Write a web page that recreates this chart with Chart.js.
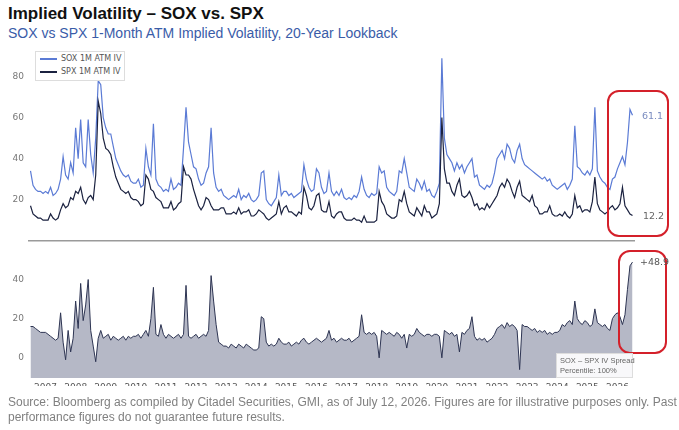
<!DOCTYPE html>
<html>
<head>
<meta charset="utf-8">
<script src="https://cdn.jsdelivr.net/npm/chart.js@4.4.1/dist/chart.umd.min.js"></script>
<style>
  body { margin: 0; width: 679px; height: 430px; background: #fff; position: relative; overflow: hidden; font-family: "Liberation Sans", Arial, sans-serif; }
  #title { position: absolute; left: 8px; top: 4px; font-size: 17px; font-weight: bold; color: #111; }
  #subtitle { position: absolute; left: 8px; top: 25px; font-size: 14px; color: #3a5ca8; }
  #topChart { position: absolute; left: 0; top: 0; }
  #bottomChart { position: absolute; left: 0; top: 245px; }
  #legend { position: absolute; left: 35px; top: 51px; width: 88px; height: 28px; border: 1px solid #ddd; background: #fff; font: 8px "DejaVu Sans", sans-serif; color: #555; }
  #legend div { height: 13px; line-height: 13px; padding-left: 4px; }
  #legend span { display: inline-block; width: 17px; height: 2px; vertical-align: middle; margin-right: 4px; }
  .val { position: absolute; font: 9.5px "DejaVu Sans", sans-serif; }
  .ring { position: absolute; border: 2px solid #d4202a; border-radius: 12px; }
  #note { position: absolute; left: 556px; top: 353px; width: 77px; height: 25px; background: rgba(255,255,255,0.9); border: 1px solid #ddd; font: 7.5px "Liberation Sans", Arial, sans-serif; color: #666; line-height: 10px; padding: 2px 0 0 3px; box-sizing: border-box; white-space: nowrap; }
  #source { position: absolute; left: 8px; top: 395px; font-size: 12px; line-height: 15px; color: #808080; }
</style>
</head>
<body>
<div id="title">Implied Volatility – SOX vs. SPX</div>
<div id="subtitle">SOX vs SPX 1-Month ATM Implied Volatility, 20-Year Lookback</div>
<canvas id="topChart" width="679" height="251"></canvas>
<canvas id="bottomChart" width="679" height="185"></canvas>
<div id="legend">
  <div><span style="background:#5b7bd5"></span>SOX 1M ATM IV</div>
  <div><span style="background:#1b2240"></span>SPX 1M ATM IV</div>
</div>
<div class="ring" style="left:607px; top:90px; width:58px; height:143px;"></div>
<div class="ring" style="left:618px; top:250px; width:45px; height:100px;"></div>
<div class="val" style="left:642px; top:110px; color:#7a8cc0;">61.1</div>
<div class="val" style="left:643px; top:210px; color:#666;">12.2</div>
<div class="val" style="left:640px; top:256px; color:#555;">+48.9</div>
<div id="note">SOX – SPX IV Spread<br>Percentile: 100%</div>
<div id="source">Source: Bloomberg as compiled by Citadel Securities, GMI, as of July 12, 2026. Figures are for illustrative purposes only. Past<br>performance figures do not guarantee future results.</div>
<script>
'use strict';
// monthly readings, Jul 2006 .. Jul 2026
let startYear = 2006.5;
let yearTicks = [2007, 2008, 2009, 2010, 2011, 2012, 2013, 2014, 2015, 2016, 2017, 2018, 2019, 2020, 2021, 2022, 2023, 2024, 2025, 2026];
let topTicks = [20, 40, 60, 80];
let bottomTicks = [0, 20, 40];

let sox = [
  34, 27, 25, 24, 24, 23,
  24, 23, 26, 22, 23, 25, 30, 41, 32, 30, 38, 33,
  55, 40, 59, 38, 36, 59, 42, 33, 50, 78, 76, 60,
  55, 52, 52, 46, 40, 37, 34, 32, 31, 32, 29, 28,
  28, 30, 26, 27, 45, 36, 32, 57, 30, 27, 26, 24,
  25, 24, 30, 25, 26, 28, 27, 45, 65, 48, 42, 36,
  35, 30, 27, 28, 33, 36, 55, 33, 26, 24, 25, 22,
  21, 20, 21, 22, 21, 25, 20, 22, 21, 23, 20, 19,
  20, 22, 33, 34, 20, 18, 17, 19, 21, 32, 22, 24,
  24, 22, 23, 21, 22, 23, 24, 37, 30, 26, 24, 25,
  35, 33, 26, 23, 24, 33, 24, 22, 24, 22, 25, 21,
  20, 21, 20, 22, 21, 24, 31, 25, 22, 21, 23, 22,
  23, 36, 33, 34, 26, 24, 23, 22, 24, 34, 33, 40,
  33, 26, 25, 24, 30, 28, 25, 29, 24, 25, 22, 21,
  24, 28, 89, 50, 42, 40, 38, 34, 38, 35, 37, 33,
  36, 38, 40, 31, 32, 27, 26, 25, 27, 26, 28, 33,
  40, 42, 44, 40, 47, 45, 40, 38, 44, 47, 40, 37,
  36, 35, 34, 33, 32, 31, 30, 31, 29, 30, 27, 26,
  25, 26, 27, 28, 25, 27, 30, 56, 36, 35, 33, 32,
  34, 32, 35, 65, 34, 31, 29, 28, 26, 25, 30, 31,
  35, 38, 41, 37, 48, 64, 61.1
];

let spx = [
  17, 13, 12, 11, 11, 10,
  10, 10, 13, 11, 10, 11, 15, 18, 16, 17, 21, 20,
  24, 23, 26, 20, 18, 21, 22, 20, 32, 68, 62, 50,
  45, 44, 42, 36, 31, 28, 25, 24, 23, 24, 21, 20,
  20, 19, 17, 18, 32, 30, 25, 24, 21, 20, 19, 16,
  16, 16, 19, 15, 16, 18, 19, 36, 32, 32, 30, 25,
  21, 17, 15, 17, 21, 20, 17, 15, 15, 15, 16, 16,
  13, 13, 13, 14, 13, 16, 13, 14, 14, 15, 12, 12,
  13, 15, 14, 13, 11, 10, 11, 12, 13, 19, 13, 16,
  17, 14, 14, 13, 12, 14, 13, 26, 22, 16, 15, 17,
  22, 23, 15, 14, 14, 19, 12, 11, 13, 14, 14, 11,
  10, 10, 10, 11, 10, 10, 9, 12, 9, 9, 9, 9,
  10, 24, 19, 17, 13, 12, 11, 11, 12, 20, 19, 24,
  18, 14, 13, 12, 16, 14, 12, 17, 14, 14, 11, 12,
  13, 18, 60, 35, 28, 28, 24, 22, 27, 30, 22, 21,
  22, 24, 21, 17, 18, 15, 16, 15, 18, 16, 18, 20,
  22, 26, 28, 26, 30, 28, 24, 21, 26, 29, 22, 21,
  20, 19, 22, 17, 16, 13, 13, 14, 14, 17, 13, 12,
  12, 13, 12, 14, 12, 11, 13, 22, 16, 17, 14, 15,
  15, 14, 19, 31, 18, 15, 14, 13, 14, 16, 17, 15,
  16, 18, 26, 17, 15, 13, 12.2
];

let spread = [
  16, 16, 15, 14, 13, 13,
  13, 12, 11, 10, 9, 10, 23, 8, -1, 14, 3, 10,
  29, 15, 38, 19, 27, 40, 14, 6, -2, 10, 14, 10,
  11, 12, 9, 11, 10, 9, 10, 11, 9, 11, 10, 11,
  11, 12, 10, 12, 14, 11, 20, 36, 12, 11, 17, 12,
  10, 12, 11, 10, 11, 12, 10, 12, 37, 11, 10, 11,
  12, 10, 11, 12, 11, 14, 42, 29, 17, 8, 7, 6,
  6, 5, 7, 6, 5, 7, 6, 5, 7, 6, 5, 4,
  4, 5, 21, 20, 8, 6, 7, 6, 7, 10, 8, 7,
  7, 8, 6, 7, 8, 7, 9, 10, 8, 7, 8, 9,
  10, 9, 8, 9, 10, 14, 9, 10, 8, 9, 10, 9,
  9, 10, 8, 9, 10, 11, 22, 13, 12, 13, 12, 13,
  11, 0, 14, 13, 12, 13, 12, 11, 13, 12, 10, 12,
  5, 12, 11, 12, 15, 13, 12, 11, 12, 12, 11, 12,
  12, 11, 0, 14, 13, 12, 13, 11, 12, 3, 13, 12,
  14, 15, 21, 11, 9, 10, 9, 10, 8, 9, 10, 12,
  15, 16, 17, 15, 18, 16, 17, 16, 14, -6, 17, 16,
  16, 15, 14, 15, 13, 14, 13, 14, 12, 13, 12, 13,
  13, 14, 17, 16, 18, 19, 17, 29, 20, 18, 17, 19,
  18, 16, 17, 25, 18, 17, 16, 17, 15, 14, 20, 22,
  23, 21, 17, 22, 35, 47, 48.9
];

function toPoints(arr){
  return arr.map((v, i) => ({x: startYear + i / 12, y: v}));
}

Chart.defaults.font.family = 'DejaVu Sans';
Chart.defaults.font.size = 9;
Chart.defaults.color = '#666';

let xRange = {min: 2006.45, max: 2026.55};

new Chart(document.getElementById('topChart'), {
  type: 'line',
  data: {
    datasets: [
      {label: 'SPX 1M ATM IV', data: toPoints(spx), borderColor: '#1b2240', borderWidth: 1.2, pointRadius: 0, tension: 0},
      {label: 'SOX 1M ATM IV', data: toPoints(sox), borderColor: '#5b7bd5', borderWidth: 1.2, pointRadius: 0, tension: 0}
    ]
  },
  options: {
    responsive: false,
    animation: false,
    layout: {padding: {top: 52, right: 45, bottom: 0, left: 0}},
    plugins: {legend: {display: false}, tooltip: {enabled: false}},
    scales: {
      x: {
        type: 'linear', min: xRange.min, max: xRange.max,
        grid: {display: false, drawTicks: false},
        border: {display: true, color: '#9a9a9a', width: 1.5},
        ticks: {display: false},
        afterFit: (s) => { s.height = 0; }
      },
      y: {
        min: 0, max: 92,
        grid: {display: false, drawTicks: false},
        border: {display: false},
        afterBuildTicks: (s) => { s.ticks = topTicks.map(v => ({value: v})); },
        ticks: {padding: 5, color: '#777'},
        afterFit: (s) => { s.width = 29; }
      }
    }
  }
});

new Chart(document.getElementById('bottomChart'), {
  type: 'line',
  data: {
    datasets: [
      {label: 'SOX – SPX IV Spread', data: toPoints(spread), borderColor: '#2d3452', borderWidth: 1, backgroundColor: '#b5b8c6', fill: 'start', pointRadius: 0, tension: 0}
    ]
  },
  options: {
    responsive: false,
    animation: false,
    layout: {padding: {top: 12, right: 45, bottom: 44, left: 0}},
    plugins: {legend: {display: false}, tooltip: {enabled: false}},
    scales: {
      x: {
        type: 'linear', min: xRange.min, max: xRange.max,
        grid: {display: false, drawTicks: false},
        border: {display: false},
        afterBuildTicks: (s) => { s.ticks = yearTicks.map(v => ({value: v})); },
        ticks: {padding: 4, color: '#555', maxRotation: 0, autoSkip: false, callback: (v) => String(v)},
        afterFit: (s) => { s.height = 8; }
      },
      y: {
        min: -10.3, max: 51.5,
        grid: {display: false, drawTicks: false},
        border: {display: false},
        afterBuildTicks: (s) => { s.ticks = bottomTicks.map(v => ({value: v})); },
        ticks: {padding: 5, color: '#777'},
        afterFit: (s) => { s.width = 29; }
      }
    }
  }
});
</script>
</body>
</html>
